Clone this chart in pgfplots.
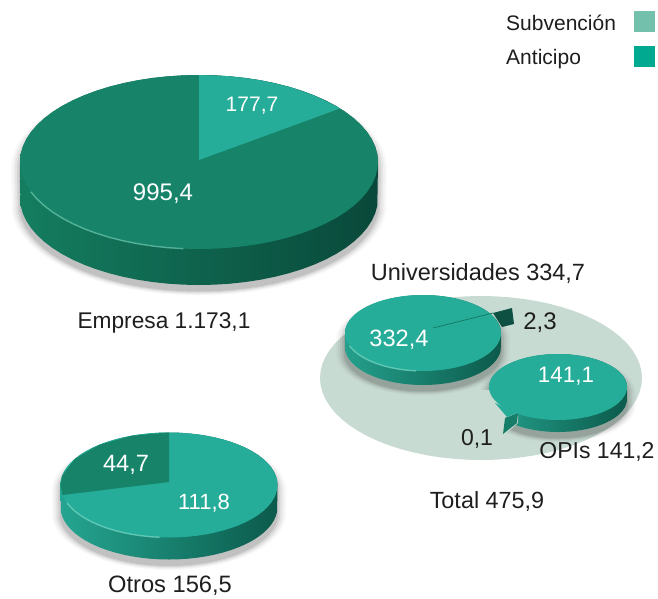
\documentclass[border=0pt]{standalone}
\usepackage{fontspec}
\setmainfont{Liberation Sans}
\usepackage{pgfplots}
\usepackage{pgfplotstable}
\pgfplotsset{compat=1.18}
\pgfplotstableread{
a c s
0 1 0
5 .9962 .0872
10 .9848 .1736
15 .9659 .2588
20 .9397 .3420
25 .9063 .4226
30 .8660 .5
35 .8192 .5736
40 .7660 .6428
45 .7071 .7071
50 .6428 .7660
55 .5736 .8192
60 .5 .8660
65 .4226 .9063
70 .3420 .9397
75 .2588 .9659
80 .1736 .9848
85 .0872 .9962
90 0 1
95 -.0872 .9962
100 -.1736 .9848
105 -.2588 .9659
110 -.3420 .9397
115 -.4226 .9063
120 -.5 .8660
125 -.5736 .8192
130 -.6428 .7660
135 -.7071 .7071
140 -.7660 .6428
145 -.8192 .5736
150 -.8660 .5
155 -.9063 .4226
160 -.9397 .3420
165 -.9659 .2588
170 -.9848 .1736
175 -.9962 .0872
180 -1 0
185 -.9962 -.0872
190 -.9848 -.1736
195 -.9659 -.2588
200 -.9397 -.3420
205 -.9063 -.4226
210 -.8660 -.5
215 -.8192 -.5736
220 -.7660 -.6428
225 -.7071 -.7071
230 -.6428 -.7660
235 -.5736 -.8192
240 -.5 -.8660
245 -.4226 -.9063
250 -.3420 -.9397
255 -.2588 -.9659
260 -.1736 -.9848
265 -.0872 -.9962
270 0 -1
275 .0872 -.9962
280 .1736 -.9848
285 .2588 -.9659
290 .3420 -.9397
295 .4226 -.9063
300 .5 -.8660
305 .5736 -.8192
310 .6428 -.7660
315 .7071 -.7071
320 .7660 -.6428
325 .8192 -.5736
330 .8660 -.5
335 .9063 -.4226
340 .9397 -.3420
345 .9659 -.2588
350 .9848 -.1736
355 .9962 -.0872
360 1 0
}\unitc
\newcommand{\fs}[1]{\fontsize{#1}{#1}\selectfont}
% hull of a disc with depth #5
\newcommand{\Hull}[6]{\addplot[draw=none,#6] table[x expr={#1+(#2)*\thisrow{c}}, y expr={#3+(#4)*\thisrow{s}+(#5)*(\thisrow{s}>0)}] {\unitc};}
\newcommand{\Glow}[5]{%
\Hull{#1}{#2+9}{#3+6}{#4+4.5}{#5}{fill=black,fill opacity=.025}
\Hull{#1}{#2+7}{#3+6}{#4+3.5}{#5}{fill=black,fill opacity=.035}
\Hull{#1}{#2+5}{#3+6}{#4+2.5}{#5}{fill=black,fill opacity=.05}
\Hull{#1}{#2+3}{#3+6}{#4+1.5}{#5}{fill=black,fill opacity=.07}
\Hull{#1}{#2+1}{#3+6}{#4+.5}{#5}{fill=black,fill opacity=.09}
}
% lighter rim line along the front left of the top face
\newcommand{\Rim}[5]{\addplot[draw=#5,line width=1.4pt,opacity=.7,restrict expr to domain={\thisrow{a}}{95:160}] table[x expr={#1+(#2)*\thisrow{c}}, y expr={#3+(#4)*\thisrow{s}}] {\unitc};}
\definecolor{tealA}{HTML}{25AD99}
\definecolor{greenA}{HTML}{17846A}
\definecolor{ink}{HTML}{1E1E1E}
\definecolor{paleT}{RGB}{200,219,211}
\begin{document}
\begin{tikzpicture}
\begin{axis}[scale only axis,width=658pt,height=598pt,xmin=0,xmax=658,ymin=0,ymax=598,y dir=reverse,hide axis,clip=true]
\path (axis cs:0,0) (axis cs:658,598);
% Legend
\addplot[draw=none,fill={rgb,255:red,115;green,193;blue,173}] coordinates {(634,11) (655,11) (655,32) (634,32)};
\addplot[draw=none,fill={rgb,255:red,0;green,169;blue,143}] coordinates {(634,46) (655,46) (655,67) (634,67)};
% Empresa
\Glow{199}{179}{162}{87}{36}
\Hull{199}{179}{162}{87}{36}{left color={rgb,255:red,20;green,125;blue,96},middle color={rgb,255:red,13;green,105;blue,80},right color={rgb,255:red,9;green,72;blue,58}}
\Hull{199}{179}{162}{87}{0}{fill=greenA}
\addplot[draw=none,fill=tealA] coordinates {(199,160) (199,75) (230.1,76.3) (260.2,80.2) (288.5,86.7) (314.1,95.4) (340.1,108.4)};
\Rim{199}{179}{162}{87}{{rgb,255:red,110;green,200;blue,175}}
% Otros
\Glow{169}{108.5}{485}{52.5}{22}
\Hull{169}{108.5}{485}{52.5}{22}{left color={rgb,255:red,36;green,165;blue,145},middle color={rgb,255:red,20;green,128;blue,106},right color={rgb,255:red,12;green,90;blue,75}}
\Hull{169}{108.5}{485}{52.5}{0}{fill=tealA}
\addplot[draw=none,fill=greenA] coordinates {(169,482) (169,432.5) (131.9,435.7) (99.3,444.8) (75,458.75) (62.1,475.9) (60.5,485) (62.5,495)};
\Rim{169}{108.5}{485}{52.5}{{rgb,255:red,120;green,215;blue,195}}
% Total background
\Hull{481}{161}{378}{82}{0}{fill=paleT}
% Universidades
\Glow{423}{78}{333}{38}{14}
\addplot[draw=none,fill={rgb,255:red,14;green,80;blue,66}] coordinates {(493,313) (512,308) (514,324) (502,327)};
\Hull{423}{78}{333}{38}{14}{left color={rgb,255:red,36;green,160;blue,140},middle color={rgb,255:red,18;green,125;blue,105},right color={rgb,255:red,12;green,90;blue,75}}
\Hull{423}{78}{333}{38}{0}{fill=tealA}
\addplot[draw={rgb,255:red,20;green,125;blue,105},line width=.8pt] coordinates {(433,328) (493,313)};
\Rim{423}{78}{333}{38}{{rgb,255:red,120;green,215;blue,195}}
% OPIs
\Glow{558}{69}{387}{33}{12}
\Hull{558}{69}{387}{33}{12}{left color={rgb,255:red,36;green,160;blue,140},middle color={rgb,255:red,18;green,125;blue,105},right color={rgb,255:red,12;green,90;blue,75}}
\addplot[draw=none,fill=paleT] coordinates {(480,390) (518,390) (518,423) (503,436) (480,436)};
\Hull{558}{69}{387}{33}{0}{fill=tealA}
\addplot[draw=none,fill={rgb,255:red,22;green,125;blue,105}] coordinates {(503,434) (505,418) (518,413) (517,423)};
\addplot[draw=none,fill=tealA] coordinates {(495,403) (507,417) (518,413)};
% Texts
\node[font=\fs{21},anchor=west,text=ink] at (axis cs:502.7,23) {Subvención};
\node[font=\fs{21},anchor=west,text=ink] at (axis cs:502.7,59) {Anticipo};
\node[font=\fs{21},text=white] at (axis cs:252,106) {177,7};
\node[font=\fs{24},text=white] at (axis cs:163,194) {995,4};
\node[font=\fs{22.7},text=ink] at (axis cs:164,323) {Empresa 1.173,1};
\node[font=\fs{23.5},text=ink] at (axis cs:478,273) {Universidades 334,7};
\node[font=\fs{23.6},text=white] at (axis cs:399,340) {332,4};
\node[font=\fs{24},text=ink] at (axis cs:540,323) {2,3};
\node[font=\fs{22.4},text=white] at (axis cs:566,376) {141,1};
\node[font=\fs{23},text=ink] at (axis cs:477,439) {0,1};
\node[font=\fs{23},text=ink] at (axis cs:597,452) {OPIs 141,2};
\node[font=\fs{23.4},text=ink] at (axis cs:487,502) {Total 475,9};
\node[font=\fs{23.6},text=white] at (axis cs:126,465) {44,7};
\node[font=\fs{22},text=white] at (axis cs:204,503) {111,8};
\node[font=\fs{23.7},text=ink,inner sep=0pt] at (axis cs:170,586) {Otros 156,5};
\end{axis}
\end{tikzpicture}
\end{document}
